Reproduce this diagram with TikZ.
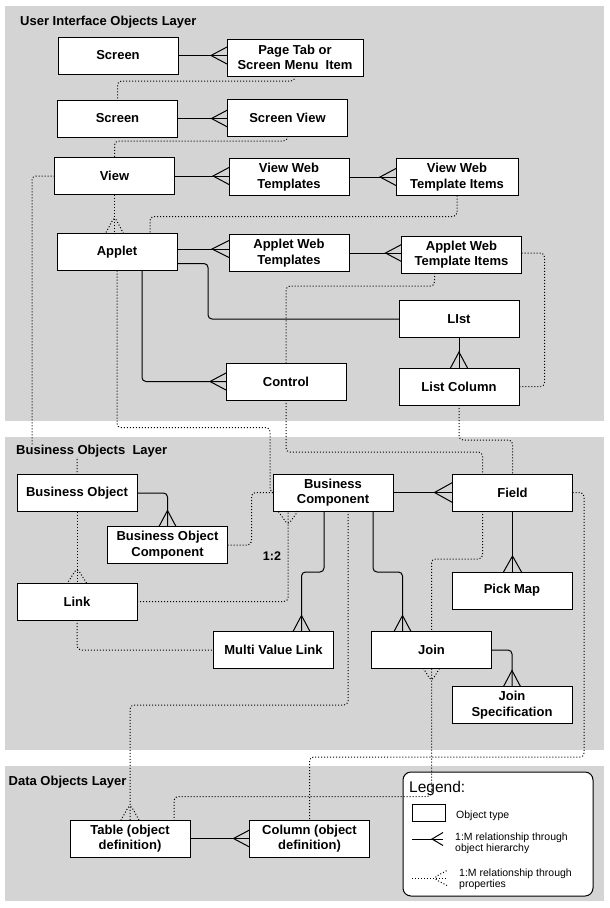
\documentclass[tikz,border=0pt]{standalone}
\usepackage{fontspec}
\setmainfont{Liberation Sans}
\usepackage{tikz}
\usetikzlibrary{calc, positioning}
\definecolor{layergray}{RGB}{212,212,212}
\tikzstyle{every node}=[font=\fontsize{13}{15.5}\selectfont]
\tikzset{ObjectStyle/.style = {
			shape          = rectangle,
			draw           = black,
			fill           = white,
			line width     = 1pt,
			text           = black,
			align          = center,
			font           = \fontsize{13}{15.5}\selectfont\bfseries,
			inner sep      = 1pt,
			outer sep      = 0pt,
			minimum width  = 120pt,
			minimum height = 37pt}
			}
\tikzset{EdgeStyle/.style     = {line width=1pt, rounded corners=4pt}}
\tikzset{PropEdgeStyle/.style = {line width=1pt, dash pattern=on 1pt off 2pt, rounded corners=4pt}}
\tikzset{LayerStyle/.style    = {fill=layergray, draw=none}}
\tikzset{TitleStyle/.style    = {
			anchor         = base west,
			inner sep      = 0pt,
			font           = \fontsize{13}{15}\selectfont\bfseries}
			}
\tikzset{LabelStyle/.style    = {
			text           = black,
			inner sep      = .2pt,
			font           = \fontsize{12.5}{14}\selectfont\bfseries}
			}
\tikzset{LegendText/.style    = {
			anchor         = west,
			align          = left,
			inner sep      = 0pt,
			font           = \fontsize{10.5}{11}\selectfont}
			}
% crow's foot: point, apex offset, half spread
\newcommand{\CrowFoot}[4][]{\draw[EdgeStyle,sharp corners,#1] ($(#2)+(#4)$) -- ($(#2)+(#3)$) -- ($(#2)-(#4)$);}

\begin{document}
\begin{tikzpicture}[x=1pt,y=-1pt]
	\useasboundingbox (0,0) rectangle (610,908);
	\fill[white] (0,0) rectangle (610,908);

	% layers
	\fill[LayerStyle] (5,6) rectangle (604,421);
	\fill[LayerStyle] (5,437) rectangle (604,750);
	\fill[LayerStyle] (5,766) rectangle (604,901);

	\node[draw, fill=white, line width=1pt, rounded corners=8pt, minimum width=190pt, minimum height=124pt] (Legend) at (498,834) {};

	% user interface objects
	\draw (118,55.5) node[ObjectStyle]   (ScreenA) {Screen};
	\draw (295,57.5) node[ObjectStyle, minimum width=136pt] (PageTab) {Page Tab or\\Screen Menu~ Item};
	\draw (117.5,118.5) node[ObjectStyle] (ScreenB) {Screen};
	\draw (287.5,117.5) node[ObjectStyle] (ScreenView) {Screen View};
	\draw (114.5,176) node[ObjectStyle] (View) {View};
	\draw (289,177) node[ObjectStyle]   (ViewTemplates) {View Web\\Templates};
	\draw (457,177) node[ObjectStyle, minimum width=122pt] (ViewTemplateItems) {View Web\\Template Items};
	\draw (117,252) node[ObjectStyle]   (Applet) {Applet};
	\draw (289,253) node[ObjectStyle]   (AppletTemplates) {Applet Web\\Templates};
	\draw (461.5,254.5) node[ObjectStyle] (AppletTemplateItems) {Applet Web\\Template Items};
	\draw (459,319) node[ObjectStyle]   (List) {LIst};
	\draw (286,381.5) node[ObjectStyle] (Control) {Control};
	\draw (459,386.5) node[ObjectStyle] (ListColumn) {List Column};

	% business objects
	\draw (77,493) node[ObjectStyle]      (BusObject) {Business Object};
	\draw (167.5,545) node[ObjectStyle]   (BusObjComp) {Business Object\\Component};
	\draw (333,492.5) node[ObjectStyle]   (BusComp) {Business\\Component};
	\draw (512.5,492.5) node[ObjectStyle] (Field) {Field};
	\draw (77,601.5) node[ObjectStyle]    (Link) {Link};
	\draw (512,590.5) node[ObjectStyle]   (PickMap) {Pick Map};
	\draw (273.5,650) node[ObjectStyle]   (MultiValueLink) {Multi Value Link};
	\draw (431.5,650) node[ObjectStyle]   (Join) {Join};
	\draw (512,705) node[ObjectStyle]     (JoinSpec) {Join\\Specification};

	% data objects
	\draw (130,838.5) node[ObjectStyle]   (Table) {Table (object\\definition)};
	\draw (309.5,838.5) node[ObjectStyle] (Column) {Column (object\\definition)};

	\coordinate (AppletOut) at ($(Applet.east)+(0,-3)$);
	\coordinate (AppletIn)  at ($(Applet.east -| AppletTemplates.west)+(0,-3)$);
	\coordinate (MvlIn)     at ($(MultiValueLink.north)+(28,0)$);
	\coordinate (JoinIn)    at ($(Join.north)+(-29,0)$);
	\coordinate (LinkIn)    at ($(BusComp.south)+(-45,0)$);

	% 1:M through object hierarchy
	\draw[EdgeStyle] (ScreenA.east) -- (ScreenA.east -| PageTab.west);
	\draw[EdgeStyle] (ScreenB.east) -- (ScreenB.east -| ScreenView.west);
	\draw[EdgeStyle] (View.east) -- (View.east -| ViewTemplates.west);
	\draw[EdgeStyle] (ViewTemplates.east) -- (ViewTemplates.east -| ViewTemplateItems.west);
	\draw[EdgeStyle] (AppletOut) -- (AppletIn);
	\draw[EdgeStyle] (AppletTemplates.east) -- (AppletTemplates.east -| AppletTemplateItems.west);
	\draw[EdgeStyle] ($(Applet.south east)+(0,-7)$) -- ++(31,0) |- (List.west);
	\draw[EdgeStyle] ($(Applet.south)+(25,0)$) |- (Control.west);
	\draw[EdgeStyle] (List.south) -- (List.south |- ListColumn.north);
	\draw[EdgeStyle] (BusObject.east) -| (BusObjComp.north);
	\draw[EdgeStyle] (BusComp.east) -- (Field.west);
	\draw[EdgeStyle] ($(BusComp.south)+(-9,0)$) -- ++(0,61) -| (MvlIn);
	\draw[EdgeStyle] ($(BusComp.south)+(40,0)$) -- ++(0,61) -| (JoinIn);
	\draw[EdgeStyle] (Field.south) -- (Field.south |- PickMap.north);
	\draw[EdgeStyle] (Join.east) -| (JoinSpec.north);
	\draw[EdgeStyle] (Table.east) -- (Column.west);

	\CrowFoot{ScreenA.east -| PageTab.west}{-16,0}{0,8.5}
	\CrowFoot{ScreenB.east -| ScreenView.west}{-16,0}{0,8.5}
	\CrowFoot{View.east -| ViewTemplates.west}{-16,0}{0,8.5}
	\CrowFoot{ViewTemplates.east -| ViewTemplateItems.west}{-16,0}{0,8.5}
	\CrowFoot{AppletIn}{-17,0}{0,8.5}
	\CrowFoot{AppletTemplates.east -| AppletTemplateItems.west}{-16,0}{0,8.5}
	\CrowFoot{Control.west}{-16,0}{0,8.5}
	\CrowFoot{List.south |- ListColumn.north}{0,-16}{8.5,0}
	\CrowFoot{BusObjComp.north}{0,-16}{8.5,0}
	\CrowFoot{Field.west}{-18,0}{0,10}
	\CrowFoot{MvlIn}{0,-16}{8.5,0}
	\CrowFoot{JoinIn}{0,-16}{8.5,0}
	\CrowFoot{Field.south |- PickMap.north}{0,-16}{9,0}
	\CrowFoot{JoinSpec.north}{0,-16}{8.5,0}
	\CrowFoot{Column.west}{-16,0}{0,8.5}

	% 1:M through properties
	\draw[PropEdgeStyle] (PageTab.south) -- ++(0,5) -| (ScreenB.north);
	\draw[PropEdgeStyle] (ScreenView.south) -- ++(0,5) -| (View.north);
	\draw[PropEdgeStyle] (View.west) -| (32,449) -| (BusObject.north);
	\draw[PropEdgeStyle] (View.south) -- (View.south |- Applet.north);
	\draw[PropEdgeStyle] (ViewTemplateItems.south) -- ++(0,21) -| ($(Applet.north)+(33,0)$);
	\draw[PropEdgeStyle] ($(AppletTemplateItems.south)+(-27,0)$) -- ++(0,13) -| (Control.north);
	\draw[PropEdgeStyle] (Control.south) -- ++(0,52) -| ($(Field.north)+(-30,0)$);
	\draw[PropEdgeStyle] ($(AppletTemplateItems.east)+(0,-1.5)$) -- ++(23,0) |- (ListColumn.east);
	\draw[PropEdgeStyle] (ListColumn.south) -- ++(0,35) -| (Field.north);
	\draw[PropEdgeStyle] (Applet.south) -- ++(0,157) -| ($(BusComp.west)+(-3,0)$) -- (BusComp.west);
	\draw[PropEdgeStyle] (BusObjComp.east) -- ++(24,0) |- (BusComp.west);
	\draw[PropEdgeStyle] (Link.east) -| (LinkIn);
	\draw[PropEdgeStyle] (BusObject.south) -- (Link.north);
	\draw[PropEdgeStyle] (Link.south) |- (MultiValueLink.west);
	\draw[PropEdgeStyle] ($(BusComp.south)+(15,0)$) -- ++(0,194) -| (Table.north);
	\draw[PropEdgeStyle] ($(Field.south)+(-30,0)$) -- ++(0,48) -| (Join.north);
	\draw[PropEdgeStyle] (Join.south) -- ++(0,128) -| ($(Table.north)+(44,0)$);
	\draw[PropEdgeStyle] (Field.east) -| (584,757) -| (Column.north);

	\CrowFoot[PropEdgeStyle]{View.south |- Applet.north}{0,-17}{9,0}
	\CrowFoot[PropEdgeStyle]{LinkIn}{0,14}{10,0}
	\CrowFoot[PropEdgeStyle]{Link.north}{0,-15}{9.5,0}
	\CrowFoot[PropEdgeStyle]{Table.north}{0,-16}{9,0}
	\CrowFoot[PropEdgeStyle]{Join.south}{0,13}{8,0}

	\node[LabelStyle] (RatioLabel) at (272,556) {1:2};

	% layer titles
	\node[TitleStyle] (UITitle) at (20,25) {User Interface Objects Layer};
	\node[TitleStyle, fill=layergray] (BusTitle) at (16,454) {Business Objects~ Layer};
	\node[TitleStyle] (DataTitle) at (8.5,785) {Data Objects Layer};

	% legend
	\node[anchor=base west, inner sep=0pt, font=\fontsize{15.5}{16}\selectfont] (LegendTitle) at (409,792) {Legend:};
	\node[ObjectStyle, minimum width=33pt, minimum height=17pt] (LegendBox) at (428.5,812.5) {};
	\node[LegendText, anchor=base west] (LegendBoxText) at (456,818) {Object type};
	\coordinate (LegSolidA) at (412,839);
	\coordinate (LegSolidB) at (443,839);
	\draw[EdgeStyle] (LegSolidA) -- (LegSolidB);
	\CrowFoot{LegSolidB}{-11,0}{0,6.5}
	\node[LegendText] (LegSolidText) at (455,843) {1:M relationship through\\object hierarchy};
	\coordinate (LegPropA) at (412,878);
	\coordinate (LegPropB) at (447,878);
	\draw[PropEdgeStyle] (LegPropA) -- (LegPropB);
	\CrowFoot[PropEdgeStyle]{LegPropB}{-14,0}{0,7.5}
	\node[LegendText] (LegPropText) at (459,879) {1:M relationship through\\properties};
\end{tikzpicture}
\end{document}
